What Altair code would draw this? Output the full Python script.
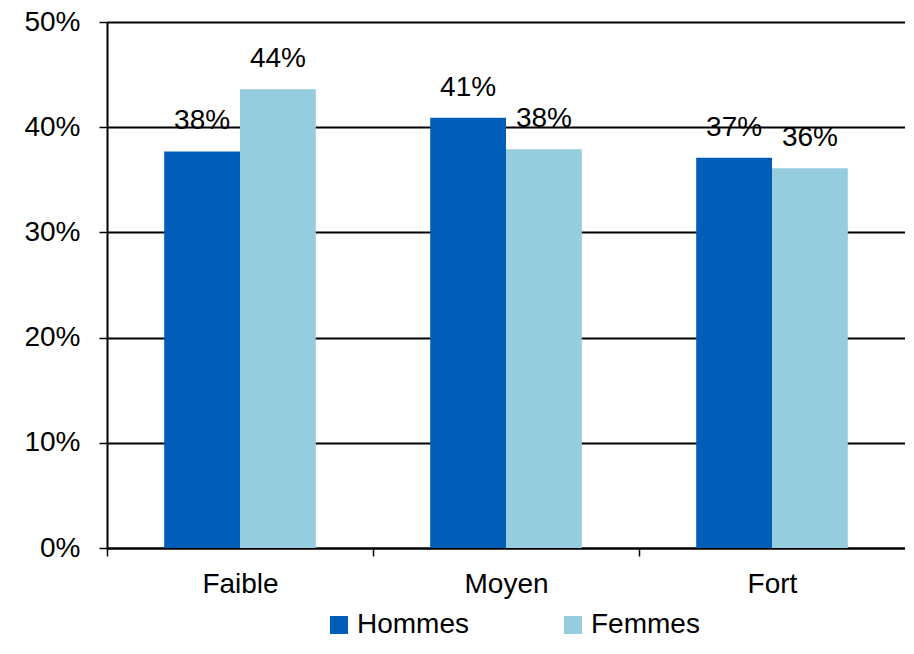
import altair as alt
import pandas as pd

categories = ["Faible", "Moyen", "Fort"]
series = ["Hommes", "Femmes"]
hommes = [0.377, 0.409, 0.371]
femmes = [0.436, 0.379, 0.361]
colors = ["#005EB8", "#96CDDE"]

rows = []
for i, c in enumerate(categories):
    rows.append({"cat": c, "sexe": "Hommes", "val": hommes[i]})
    rows.append({"cat": c, "sexe": "Femmes", "val": femmes[i]})
df = pd.DataFrame(rows)

FONT = "Liberation Sans"
W, H = 798, 526
step = W / 3

x = alt.X(
    "cat:N",
    sort=categories,
    title=None,
    scale=alt.Scale(paddingInner=0.43, paddingOuter=0.215),
    axis=alt.Axis(
        labelAngle=0,
        labelFontSize=28,
        labelColor="black",
        labelFont=FONT,
        labelPadding=14,
        tickSize=8,
        tickColor="black",
        tickWidth=1.5,
        domainColor="black",
        domainWidth=2,
        bandPosition=0.5,
        tickOffset=-step / 2,
        labelOffset=step / 2,
        grid=False,
    ),
)
xo = alt.XOffset("sexe:N", sort=series, scale=alt.Scale(paddingInner=0))
y = alt.Y(
    "val:Q",
    title=None,
    scale=alt.Scale(domain=[0, 0.5], nice=False),
    axis=alt.Axis(
        format=".0%",
        values=[0, 0.1, 0.2, 0.3, 0.4, 0.5],
        labelFontSize=28,
        labelColor="black",
        labelFont=FONT,
        labelPadding=19,
        tickSize=8,
        tickColor="black",
        tickWidth=1.5,
        domainColor="black",
        domainWidth=2,
        grid=True,
        gridColor="black",
        gridWidth=2,
        gridOpacity=1,
    ),
)

bars = alt.Chart(df).mark_bar().encode(
    x=x,
    xOffset=xo,
    y=y,
    color=alt.Color(
        "sexe:N",
        sort=series,
        scale=alt.Scale(domain=series, range=colors),
        legend=alt.Legend(
            title=None,
            orient="none",
            legendX=218,
            legendY=589,
            direction="horizontal",
            symbolType="square",
            symbolSize=324,
            symbolStrokeWidth=0,
            symbolOpacity=1,
            labelFontSize=28,
            labelFont=FONT,
            labelColor="black",
            labelOffset=4,
            columnPadding=89,
        ),
    ),
)

labels = alt.Chart(df).mark_text(
    baseline="alphabetic", align="center", dy=-22, fontSize=28, font=FONT, color="black"
).encode(
    x=alt.X("cat:N", sort=categories),
    xOffset=alt.XOffset("sexe:N", sort=series),
    y=alt.Y("val:Q"),
    text=alt.Text("val:Q", format=".0%"),
)

chart = (
    alt.layer(bars, labels)
    .properties(
        width=W,
        height=H,
        autosize=alt.AutoSizeParams(type="none"),
        padding={"left": 99, "top": 14, "right": 0, "bottom": 93},
    )
    .configure_view(stroke=None)
    .configure(font=FONT)
)

chart.save("out.html", embed_options={"renderer": "svg", "actions": False})
